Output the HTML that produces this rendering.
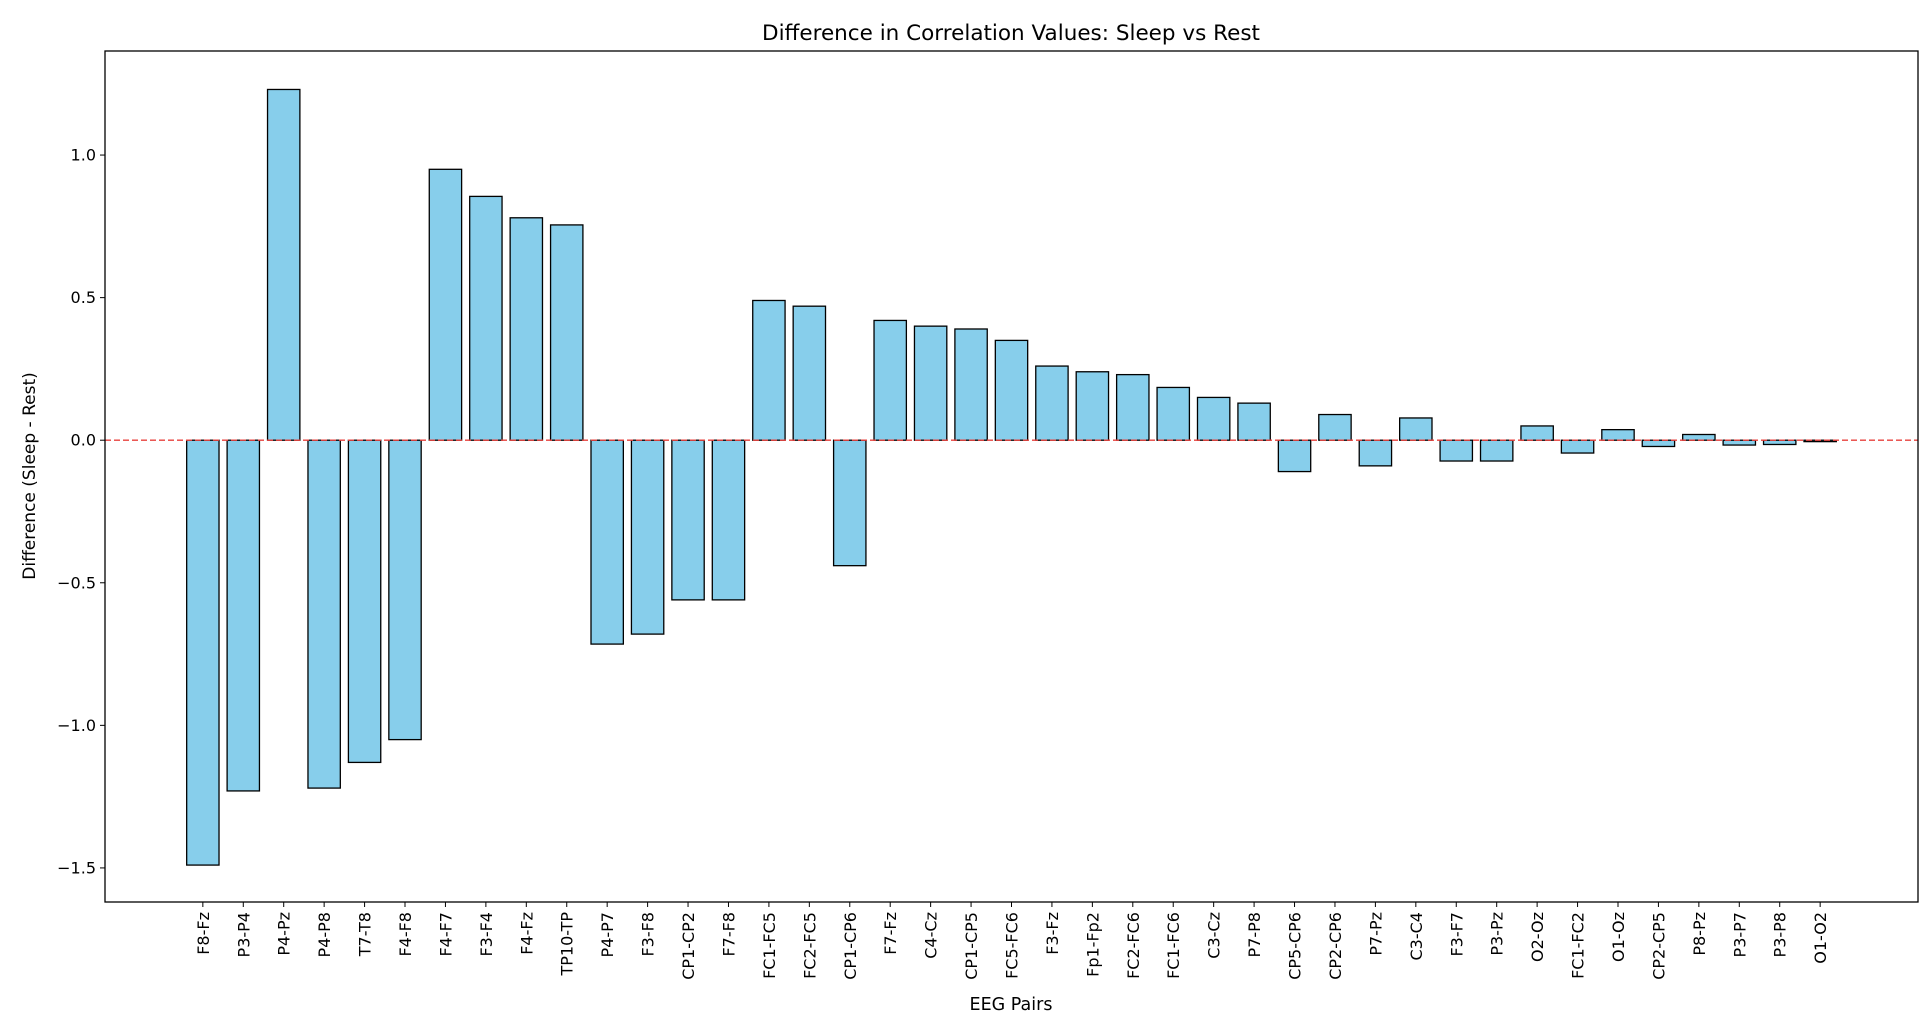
<!DOCTYPE html>
<html><head><meta charset="utf-8"><style>
html,body{margin:0;padding:0;background:#fff;}
svg{display:block;font-family:"DejaVu Sans","Liberation Sans",sans-serif;}
</style></head><body>
<svg id="chart" width="1932" height="1024" viewBox="0 0 1932 1024" xmlns="http://www.w3.org/2000/svg">
<text x="1011" y="40" font-size="21.5" text-anchor="middle" fill="#000">Difference in Correlation Values: Sleep vs Rest</text>
<text transform="translate(35,476) rotate(-90)" font-size="17" text-anchor="middle" fill="#000">Difference (Sleep - Rest)</text>
<text x="1011" y="1010" font-size="17.5" text-anchor="middle" fill="#000">EEG Pairs</text>
<g id="bars"></g>
<g id="yticks"></g>
<g id="xticks"></g>
<rect x="105" y="51" width="1813" height="851" fill="none" stroke="#000" stroke-width="1.3"/>
</svg>
<script>
const categories = ["F8-Fz","P3-P4","P4-Pz","P4-P8","T7-T8","F4-F8","F4-F7","F3-F4","F4-Fz","TP10-TP","P4-P7","F3-F8","CP1-CP2","F7-F8","FC1-FC5","FC2-FC5","CP1-CP6","F7-Fz","C4-Cz","CP1-CP5","FC5-FC6","F3-Fz","Fp1-Fp2","FC2-FC6","FC1-FC6","C3-Cz","P7-P8","CP5-CP6","CP2-CP6","P7-Pz","C3-C4","F3-F7","P3-Pz","O2-Oz","FC1-FC2","O1-Oz","CP2-CP5","P8-Pz","P3-P7","P3-P8","O1-O2"];
const values = [-1.49,-1.23,1.23,-1.22,-1.13,-1.05,0.95,0.855,0.78,0.755,-0.715,-0.68,-0.56,-0.56,0.49,0.47,-0.44,0.42,0.40,0.39,0.35,0.26,0.24,0.23,0.185,0.15,0.13,-0.11,0.09,-0.09,0.078,-0.073,-0.073,0.05,-0.045,0.037,-0.022,0.02,-0.017,-0.015,-0.005];
const yTicks = [-1.5,-1.0,-0.5,0.0,0.5,1.0];
const yTickLabels = ["\u22121.5","\u22121.0","\u22120.5","0.0","0.5","1.0"];

const NS = "http://www.w3.org/2000/svg";
const L = 105, R = 1918, T = 51, B = 902;
const yMin = -1.6195, yMax = 1.3649;
function yScale(v){ return B - (v - yMin) / (yMax - yMin) * (B - T); }
const n = categories.length;
const xMin = -2.42, xMax = n - 1 + 2.42;
function xScale(i){ return L + (i - xMin) / (xMax - xMin) * (R - L); }
const bw = 0.8 * (xScale(1) - xScale(0));

const bars = document.getElementById('bars');
values.forEach((v, i) => {
  const r = document.createElementNS(NS, 'rect');
  const y0 = yScale(0), y1 = yScale(v);
  r.setAttribute('x', xScale(i) - bw / 2);
  r.setAttribute('y', Math.min(y0, y1));
  r.setAttribute('width', bw);
  r.setAttribute('height', Math.abs(y1 - y0));
  r.setAttribute('fill', '#87ceeb');
  r.setAttribute('stroke', '#000');
  r.setAttribute('stroke-width', '1.3');
  
  
  bars.appendChild(r);
});
const zl = document.createElementNS(NS, 'line');
zl.setAttribute('x1', L); zl.setAttribute('x2', R);
zl.setAttribute('y1', yScale(0)); zl.setAttribute('y2', yScale(0));
zl.setAttribute('stroke', '#e8413c'); zl.setAttribute('stroke-width', '1.3');
zl.setAttribute('stroke-dasharray', '6,3');


bars.appendChild(zl);

const yt = document.getElementById('yticks');
yTicks.forEach((v, i) => {
  const y = yScale(v);
  const ln = document.createElementNS(NS, 'line');
  ln.setAttribute('x1', L - 5); ln.setAttribute('x2', L);
  ln.setAttribute('y1', y); ln.setAttribute('y2', y);
  ln.setAttribute('stroke', '#000');
  
  
  yt.appendChild(ln);
  const t = document.createElementNS(NS, 'text');
  t.setAttribute('x', L - 9); t.setAttribute('y', y + 5.5);
  t.setAttribute('font-size', '16'); t.setAttribute('text-anchor', 'end');
  t.textContent = yTickLabels[i];
  
  
  yt.appendChild(t);
});

const xt = document.getElementById('xticks');
categories.forEach((c, i) => {
  const x = xScale(i);
  const ln = document.createElementNS(NS, 'line');
  ln.setAttribute('x1', x); ln.setAttribute('x2', x);
  ln.setAttribute('y1', B); ln.setAttribute('y2', B + 5);
  ln.setAttribute('stroke', '#000');
  
  
  xt.appendChild(ln);
  const t = document.createElementNS(NS, 'text');
  t.setAttribute('transform', 'translate(' + (x + 6) + ',' + (B + 10) + ') rotate(-90)');
  t.setAttribute('font-size', '16'); t.setAttribute('text-anchor', 'end');
  t.textContent = c;
  
  
  xt.appendChild(t);
});
</script>
</body></html>
